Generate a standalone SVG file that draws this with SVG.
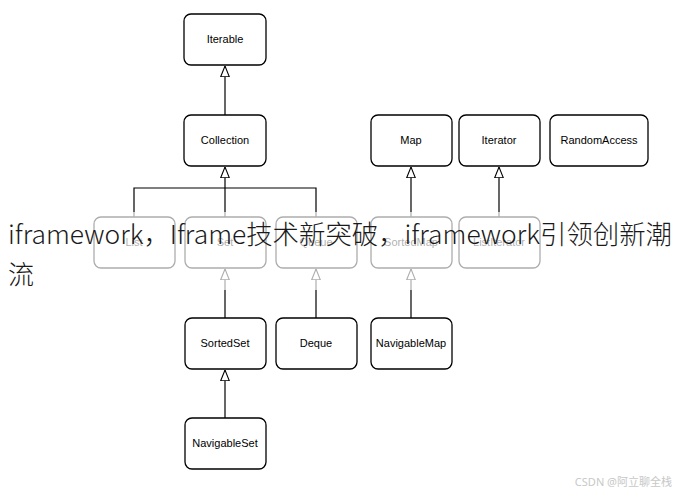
<svg xmlns="http://www.w3.org/2000/svg" width="680" height="490" viewBox="0 0 680 490">
<style>
.b{fill:#fff;stroke:#000;stroke-width:1.3}
.t{font-family:"Liberation Sans",Arial,sans-serif;font-size:11px;text-anchor:middle;fill:#000}
.c{fill:none;stroke:#000;stroke-width:1.2}
.o{font-family:"Noto Sans CJK SC","Noto Sans",sans-serif;font-weight:300;font-size:26px;fill:#1a1a1a}
</style>
<defs><marker id="a" viewBox="0 0 10 10" refX="10" refY="5" markerWidth="9" markerHeight="9" orient="auto"><path d="M0,1 L10,5 L0,9 Z" fill="#fff" stroke="#000"/></marker></defs>
<rect width="680" height="490" fill="#fff"/>
<g id="connectors">
<path class="c" d="M225,115 V66" marker-end="url(#a)"/>
<path class="c" d="M134,217 V188 H316 V217 M225,217 V188 M225,188 V167" marker-end="url(#a)"/>
<path class="c" d="M411,217 V167" marker-end="url(#a)"/>
<path class="c" d="M499,217 V167" marker-end="url(#a)"/>
<path class="c" d="M225,318 V269" marker-end="url(#a)"/>
<path class="c" d="M316,318 V269" marker-end="url(#a)"/>
<path class="c" d="M411,318 V269" marker-end="url(#a)"/>
<path class="c" d="M225,418 V370" marker-end="url(#a)"/>
</g>
<g id="Iterable"><rect class="b" x="184" y="14" width="82" height="51" rx="7"/><text class="t" x="225" y="43">Iterable</text></g>
<g id="Collection"><rect class="b" x="184" y="115" width="82" height="51" rx="7"/><text class="t" x="225" y="144">Collection</text></g>
<g id="Map"><rect class="b" x="371" y="115" width="81" height="51" rx="7"/><text class="t" x="411" y="144">Map</text></g>
<g id="Iterator"><rect class="b" x="459" y="115" width="81" height="51" rx="7"/><text class="t" x="499" y="144">Iterator</text></g>
<g id="RandomAccess"><rect class="b" x="550" y="115" width="98" height="51" rx="7"/><text class="t" x="599" y="144">RandomAccess</text></g>
<g id="List"><rect class="b" x="94" y="217" width="81" height="51" rx="7"/><text class="t" x="134" y="246">List</text></g>
<g id="Set"><rect class="b" x="185" y="217" width="81" height="51" rx="7"/><text class="t" x="225" y="246">Set</text></g>
<g id="Queue"><rect class="b" x="276" y="217" width="81" height="51" rx="7"/><text class="t" x="316" y="246">Queue</text></g>
<g id="SortedMap"><rect class="b" x="371" y="217" width="81" height="51" rx="7"/><text class="t" x="411" y="246">SortedMap</text></g>
<g id="ListIterator"><rect class="b" x="459" y="217" width="81" height="51" rx="7"/><text class="t" x="499" y="246">ListIterator</text></g>
<g id="SortedSet"><rect class="b" x="185" y="318" width="81" height="51" rx="7"/><text class="t" x="225" y="347">SortedSet</text></g>
<g id="Deque"><rect class="b" x="276" y="318" width="81" height="51" rx="7"/><text class="t" x="316" y="347">Deque</text></g>
<g id="NavigableMap"><rect class="b" x="371" y="318" width="81" height="51" rx="7"/><text class="t" x="411" y="347">NavigableMap</text></g>
<g id="NavigableSet"><rect class="b" x="185" y="418" width="81" height="51" rx="7"/><text class="t" x="225" y="447">NavigableSet</text></g>
<rect x="0" y="212" width="680" height="78" fill="#fff" opacity="0.68"/>
<text class="o" x="8" y="244" textLength="664" lengthAdjust="spacingAndGlyphs">iframework，Iframe技术新突破，iframework引领创新潮</text>
<text class="o" x="8" y="284">流</text>
<text x="672" y="486" text-anchor="end" font-family="Noto Sans,Noto Sans CJK SC,sans-serif" font-size="11" fill="#c8c8c8">CSDN @阿立聊全栈</text>
</svg>
